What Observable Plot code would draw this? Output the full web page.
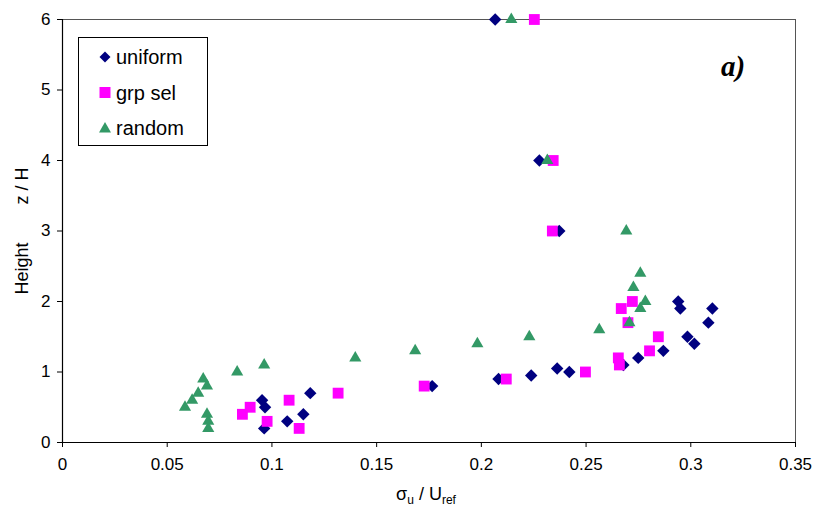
<!DOCTYPE html>
<html><head><meta charset="utf-8">
<script src="https://cdn.jsdelivr.net/npm/d3@7"></script>
<script src="https://cdn.jsdelivr.net/npm/@observablehq/plot@0.6"></script>
<style>
body{margin:0;background:#fff;}
#wrap{position:relative;width:816px;height:518px;}
svg{font-family:"Liberation Sans",Arial,sans-serif;}
</style></head><body><div id="wrap"></div>
<script>
// ---- data ----
const seriesNames = ["uniform", "grp sel", "random"];
const seriesColors = ["#000080", "#FF00FF", "#339966"];

const uniformX = [0.0963, 0.1073, 0.115, 0.0967, 0.0953, 0.1183, 0.1765, 0.2082, 0.2238, 0.242, 0.2362, 0.2678, 0.2749, 0.2869, 0.3017, 0.2984, 0.3084, 0.3103, 0.295, 0.294, 0.2372, 0.2277, 0.2066];
const uniformY = [0.2, 0.3, 0.4, 0.5, 0.6, 0.7, 0.8, 0.9, 0.95, 1.0, 1.05, 1.1, 1.2, 1.3, 1.4, 1.5, 1.7, 1.9, 1.9, 2.0, 3.0, 4.0, 6.0];

const grpSelX = [0.113, 0.0977, 0.0859, 0.0896, 0.1082, 0.1316, 0.1727, 0.2119, 0.2497, 0.2659, 0.2654, 0.2803, 0.2845, 0.270, 0.2668, 0.2721, 0.2339, 0.2343, 0.2253];
const grpSelY = [0.2, 0.3, 0.4, 0.5, 0.6, 0.7, 0.8, 0.9, 1.0, 1.1, 1.2, 1.3, 1.5, 1.7, 1.9, 2.0, 3.0, 4.0, 6.0];

const randomX = [0.0696, 0.0696, 0.069, 0.0585, 0.0619, 0.0648, 0.069, 0.0672, 0.0834, 0.0963, 0.1398, 0.1684, 0.1981, 0.2229, 0.2563, 0.2707, 0.2759, 0.2783, 0.2726, 0.2759, 0.2692, 0.2315, 0.2143];
const randomY = [0.2, 0.3, 0.4, 0.5, 0.6, 0.7, 0.8, 0.9, 1.0, 1.1, 1.2, 1.3, 1.4, 1.5, 1.6, 1.7, 1.9, 2.0, 2.2, 2.4, 3.0, 4.0, 6.0];

const xTicks = [0, 0.05, 0.1, 0.15, 0.2, 0.25, 0.3, 0.35];
const xTickLabels = ["0", "0.05", "0.1", "0.15", "0.2", "0.25", "0.3", "0.35"];
const yTicks = [0, 1, 2, 3, 4, 5, 6];
const yTickLabels = ["0", "1", "2", "3", "4", "5", "6"];

const toRows = (xs, ys) => xs.map((x, i) => ({x, y: ys[i]}));
const uniform = toRows(uniformX, uniformY);
const grpSel = toRows(grpSelX, grpSelY);
const random = toRows(randomX, randomY);

const symbols = ["diamond2", "square2", "triangle2"];
const radii = [5.6, 6.9, 5.8];

const chart = Plot.plot({
  width: 816,
  height: 518,
  marginLeft: 62,
  marginRight: 21,
  marginTop: 19,
  marginBottom: 76,
  style: {fontFamily: '"Liberation Sans", Arial, sans-serif', fontSize: "17px", color: "#000", background: "#fff"},
  x: {domain: [0, 0.35]},
  y: {domain: [0, 6]},
  marks: [
    Plot.ruleY([6], {stroke: "#555", strokeWidth: 1}),
    Plot.ruleX([0.35], {stroke: "#555", strokeWidth: 1}),
    Plot.axisX({ticks: xTicks, tickFormat: d => xTickLabels[xTicks.indexOf(d)], tickSize: 5, tickPadding: 10, label: null, fontSize: 17}),
    Plot.axisY({ticks: yTicks, tickFormat: d => yTickLabels[yTicks.indexOf(d)], tickSize: 5, tickPadding: 7, label: null, fontSize: 17}),
    Plot.ruleX([0], {stroke: "#000", strokeWidth: 1.2}),
    Plot.ruleY([0], {stroke: "#000", strokeWidth: 1.2}),
    Plot.dot(uniform, {x: "x", y: "y", symbol: symbols[0], r: radii[0], fill: seriesColors[0], stroke: "none"}),
    Plot.dot(grpSel, {x: "x", y: "y", symbol: symbols[1], r: radii[1], fill: seriesColors[1], stroke: "none"}),
    Plot.dot(random, {x: "x", y: "y", symbol: symbols[2], r: radii[2], fill: seriesColors[2], stroke: "none"})
  ]
});

document.getElementById("wrap").appendChild(chart);

const svg = d3.select(chart);

// x axis label: σu / Uref
const xl = svg.append("text")
  .attr("x", 426).attr("y", 500)
  .attr("text-anchor", "middle")
  .attr("font-size", 18)
  .attr("fill", "#000");
xl.append("tspan").text("σ");
xl.append("tspan").attr("font-size", 12).attr("dy", 4).text("u");
xl.append("tspan").attr("dy", -4).text(" / U");
xl.append("tspan").attr("font-size", 12).attr("dy", 4).text("ref");

// y axis label
const yl = svg.append("text")
  .attr("transform", "translate(28,231) rotate(-90)")
  .attr("text-anchor", "middle")
  .attr("font-size", 18)
  .attr("fill", "#000");
yl.append("tspan").text("Height");
yl.append("tspan").attr("dx", 38).text("z / H");

// panel label
svg.append("text")
  .attr("x", 721).attr("y", 76)
  .attr("text-anchor", "start")
  .attr("font-family", '"Liberation Serif", "Times New Roman", serif')
  .attr("font-weight", "bold").attr("font-style", "italic")
  .attr("font-size", 29)
  .attr("fill", "#000")
  .text("a)");

// legend box
const lg = svg.append("g");
lg.append("rect").attr("x", 78.5).attr("y", 37.5).attr("width", 129).attr("height", 108)
  .attr("fill", "#fff").attr("stroke", "#000").attr("stroke-width", 1);
const legendPaths = [
  "M0,-5.5L5.5,0L0,5.5L-5.5,0Z",
  "M-5.5,-5.5H5.5V5.5H-5.5Z",
  "M0,-6L6,4.5H-6Z"
];
seriesNames.forEach((name, i) => {
  const cy = 57 + i * 35.5;
  lg.append("path")
    .attr("transform", `translate(105,${cy})`)
    .attr("d", legendPaths[i])
    .attr("fill", seriesColors[i]);
  lg.append("text").attr("x", 116).attr("y", cy + 7)
    .attr("text-anchor", "start")
    .attr("font-size", 20).attr("fill", "#000").text(name);
});
</script>
</body></html>
